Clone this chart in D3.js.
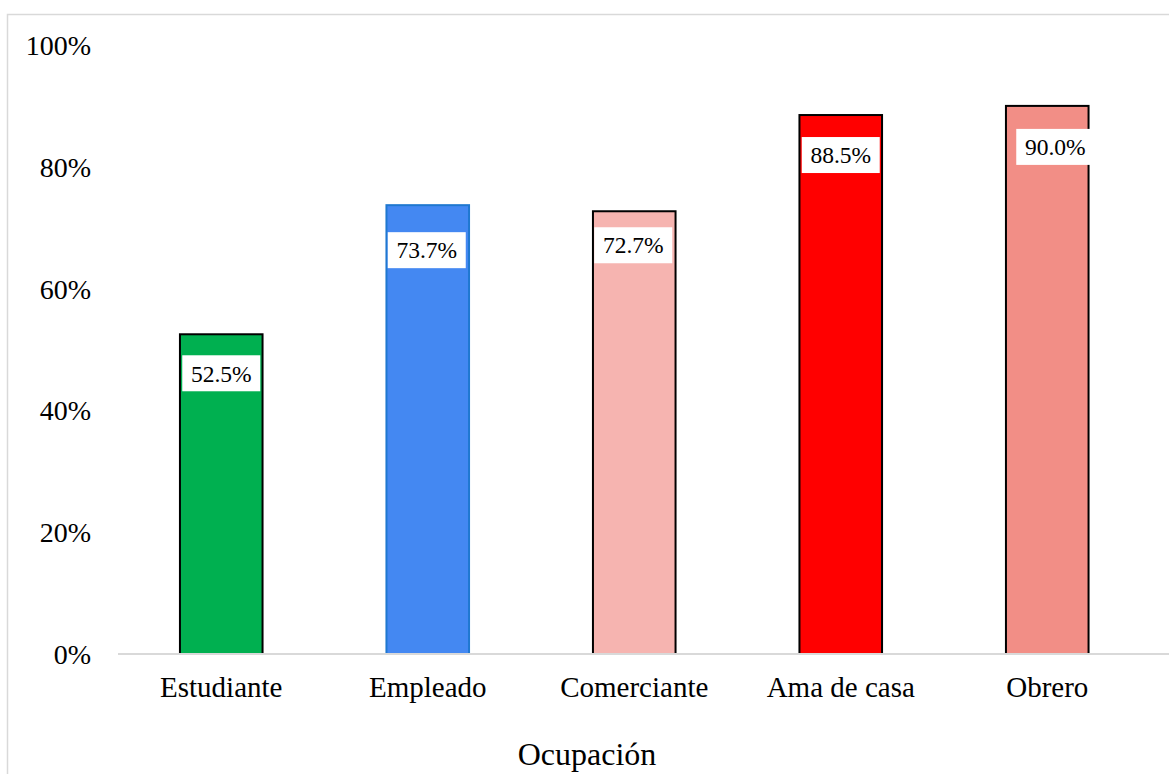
<!DOCTYPE html>
<html><head><meta charset="utf-8">
<script src="https://cdn.jsdelivr.net/npm/d3@7"></script>
<style>html,body{margin:0;padding:0;background:#fff;overflow:hidden}svg{display:block}text{font-family:"Liberation Serif","Times New Roman",serif;fill:#000}</style>
</head><body>
<svg id="c" width="1169" height="774"></svg>
<script>
const categories = ["Estudiante","Empleado","Comerciante","Ama de casa","Obrero"];
const values = [52.5, 73.7, 72.7, 88.5, 90.0];
const labels = ["52.5%","73.7%","72.7%","88.5%","90.0%"];
const fills = ["#00b050","#4488f2","#f6b4b0","#ff0000","#f28e86"];
const strokes = ["#000","#1f78d0","#000","#000","#000"];
const yTicks = [0,20,40,60,80,100];
const xTitle = "Ocupación";
// label box placement (layout only): offset of box centre below bar top, horizontal shift
const labelDy = [39, 45, 34, 40, 41];
const labelDx = [0, -1, -1, 0, 8];

const svg = d3.select("#c");
svg.append("rect").attr("x",7.5).attr("y",14.5).attr("width",1300).attr("height",900)
  .attr("fill","none").attr("stroke","#d9d9d9").attr("stroke-width",1.5);

const x = d3.scaleBand().domain(categories).range([118,1150.5]).padding(0);
const y = d3.scaleLinear().domain([0,100]).range([654,45]);
const barW = x.bandwidth()*0.4;

const ya = svg.append("g").attr("transform","translate(91,0)")
  .call(d3.axisLeft(y).tickValues(yTicks).tickFormat(d=>d+"%").tickSize(0).tickPadding(0));
ya.select(".domain").remove();
ya.selectAll("text").attr("font-size",28).attr("dy","0.34em");

svg.selectAll("rect.bar").data(values).enter().append("rect").attr("class","bar")
  .attr("x",(d,i)=>x(categories[i])+x.bandwidth()/2-barW/2)
  .attr("y",d=>y(d))
  .attr("width",barW)
  .attr("height",d=>y(0)-y(d))
  .attr("fill",(d,i)=>fills[i])
  .attr("stroke",(d,i)=>strokes[i]).attr("stroke-width",2);

const xa = svg.append("g").attr("transform","translate(0,654)")
  .call(d3.axisBottom(x).tickSize(0).tickPadding(22));
xa.select(".domain").attr("stroke","#d9d9d9").attr("stroke-width",2).attr("d","M118,0H1169");
xa.selectAll("text").attr("font-size",29);

const lg = svg.selectAll("g.lab").data(values).enter().append("g").attr("class","lab")
  .attr("transform",(d,i)=>`translate(${x(categories[i])+x.bandwidth()/2+labelDx[i]},${y(d)+labelDy[i]})`);
lg.append("rect").attr("x",-39).attr("y",-18).attr("width",78).attr("height",36).attr("fill","#fff");
lg.append("text").text((d,i)=>labels[i]).attr("text-anchor","middle").attr("dy","0.35em").attr("font-size",23.5);

svg.append("text").attr("x",587).attr("y",765).attr("text-anchor","middle").attr("font-size",32).text(xTitle);
</script>
</body></html>
